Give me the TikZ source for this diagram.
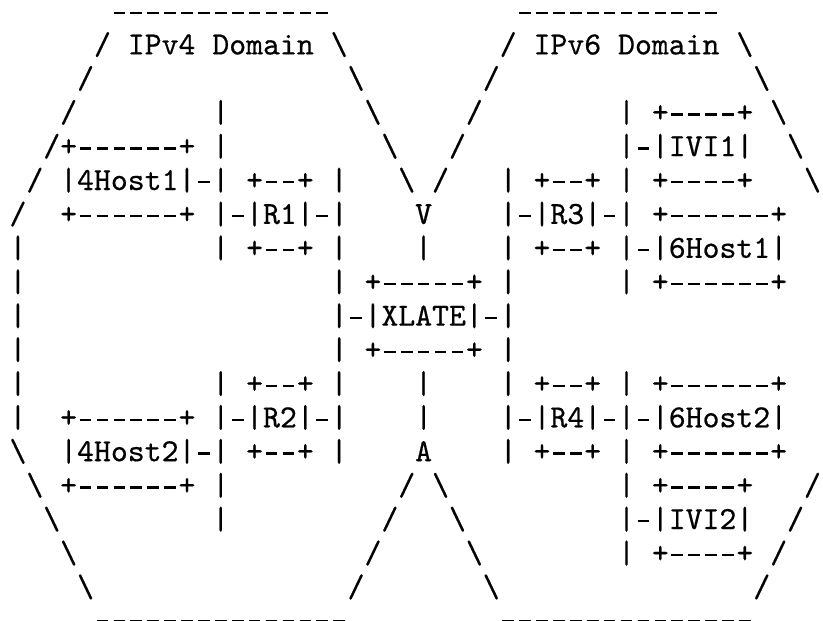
\documentclass[tikz,border=0pt]{standalone}
\usepackage{fontspec}
\setmonofont{lmmono10-regular.otf}[FakeBold=0.5]
\newcommand\bksl{\textbackslash}
% a long hyphen that fills one character cell of the mono font
\newcommand\dashcell{\makebox[0.525em][c]{\rule[0.205em]{0.36em}{0.068em}}}
\newcommand\dashrun[1]{\foreach \k in {1,...,#1}{\dashcell}}
\newcommand\artfont{\fontsize{32.2}{33.9}\selectfont\ttfamily}
\tikzset{
  artline/.style={anchor=base west, inner sep=0pt, outer sep=0pt, font=\artfont, text=black}
}
\begin{document}
\begin{tikzpicture}[x=1pt, y=-1pt]
  \fill[white] (0,0) rectangle (823,621);
  \useasboundingbox (0,0) rectangle (823,621);
  % one text line per row, baseline pitch 33.9pt
  \node[artline] (r0)  at (9.5, 20.5) {~~~~~~\dashrun{13}~~~~~~~~~~~\dashrun{12}};
  \node[artline] (r1)  at (9.5, 54.4) {~~~~~/~IPv4~Domain~\bksl{}~~~~~~~~~/~IPv6~Domain~\bksl};
  \node[artline] (r2)  at (9.5, 88.3) {~~~~/~~~~~~~~~~~~~~~\bksl{}~~~~~~~/~~~~~~~~~~~~~~~\bksl};
  \node[artline] (r3)  at (9.5,122.2) {~~~/~~~~~~~~|~~~~~~~~\bksl{}~~~~~/~~~~~~~~|~+\dashrun{4}+~\bksl};
  \node[artline] (r4)  at (9.5,156.1) {~~/+\dashrun{6}+~|~~~~~~~~~\bksl{}~~~/~~~~~~~~~|\dashcell|IVI1|~~\bksl};
  \node[artline] (r5)  at (9.5,190.0) {~/~|4Host1|\dashcell|~+\dashrun{2}+~|~~~\bksl{}~/~~~|~+\dashrun{2}+~|~+\dashrun{4}+~~~\bksl};
  \node[artline] (r6)  at (9.5,223.9) {/~~+\dashrun{6}+~|\dashcell|R1|\dashcell|~~~~V~~~~|\dashcell|R3|\dashcell|~+\dashrun{6}+};
  \node[artline] (r7)  at (9.5,257.8) {|~~~~~~~~~~~|~+\dashrun{2}+~|~~~~|~~~~|~+\dashrun{2}+~|\dashcell|6Host1|};
  \node[artline] (r8)  at (9.5,291.7) {|~~~~~~~~~~~~~~~~~~|~+\dashrun{5}+~|~~~~~~|~+\dashrun{6}+};
  \node[artline] (r9)  at (9.5,325.6) {|~~~~~~~~~~~~~~~~~~|\dashcell|XLATE|\dashcell|};
  \node[artline] (r10) at (9.5,359.5) {|~~~~~~~~~~~~~~~~~~|~+\dashrun{5}+~|};
  \node[artline] (r11) at (9.5,393.4) {|~~~~~~~~~~~|~+\dashrun{2}+~|~~~~|~~~~|~+\dashrun{2}+~|~+\dashrun{6}+};
  \node[artline] (r12) at (9.5,427.3) {|~~+\dashrun{6}+~|\dashcell|R2|\dashcell|~~~~|~~~~|\dashcell|R4|\dashcell|\dashcell|6Host2|};
  \node[artline] (r13) at (9.5,461.2) {\bksl{}~~|4Host2|\dashcell|~+\dashrun{2}+~|~~~~A~~~~|~+\dashrun{2}+~|~+\dashrun{6}+};
  \node[artline] (r14) at (9.5,495.1) {~\bksl{}~+\dashrun{6}+~|~~~~~~~~~~/~\bksl{}~~~~~~~~~~|~+\dashrun{4}+~~~/};
  \node[artline] (r15) at (9.5,529.0) {~~\bksl{}~~~~~~~~~|~~~~~~~~~/~~~\bksl{}~~~~~~~~~|\dashcell|IVI2|~~/};
  \node[artline] (r16) at (9.5,562.9) {~~~\bksl{}~~~~~~~~~~~~~~~~~/~~~~~\bksl{}~~~~~~~~|~+\dashrun{4}+~/};
  \node[artline] (r17) at (9.5,596.8) {~~~~\bksl{}~~~~~~~~~~~~~~~/~~~~~~~\bksl{}~~~~~~~~~~~~~~~/};
  \node[artline] (r18) at (9.5,628.5) {~~~~~\dashrun{15}~~~~~~~~~\dashrun{15}};
\end{tikzpicture}
\end{document}
